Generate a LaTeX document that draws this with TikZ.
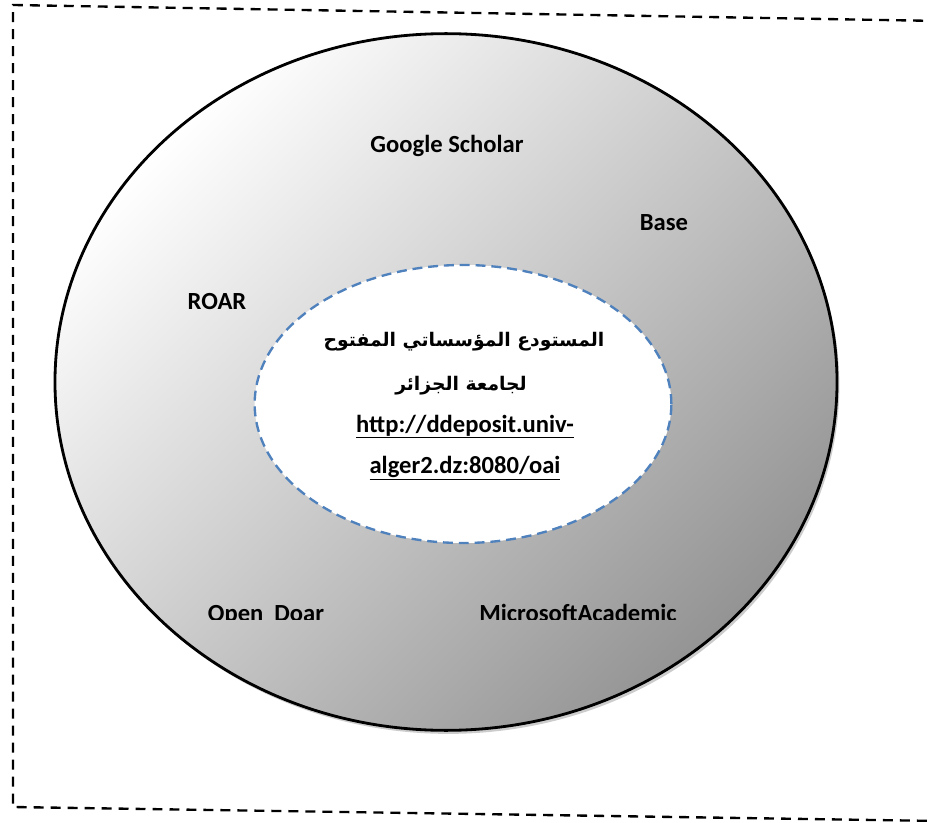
\documentclass[tikz,border=0pt]{standalone}
\usepackage{fontspec}
\setmainfont{Carlito}
\newfontfamily\arabicfont[Script=Arabic]{DejaVu Sans}
\TeXXeTstate=1
\usetikzlibrary{shapes.geometric,shadows}
\definecolor{repoblue}{HTML}{4F81BD}
\tikzset{
  dashframe/.style={line width=2pt, dash pattern=on 8.5pt off 6pt},
  ring/.style={ellipse, draw, line width=2.4pt, minimum width=23.46cm,
               minimum height=20.9cm, top color=white, bottom color=black!42,
               shading angle=45,
               drop shadow={shadow xshift=2pt, shadow yshift=-3pt, opacity=.4}},
  repo/.style={ellipse, draw=repoblue, line width=2pt,
               dash pattern=on 8.5pt off 5pt, fill=white,
               minimum width=12.5cm, minimum height=8.34cm},
  db/.style={font=\fontsize{21}{25}\selectfont\bfseries, anchor=base, inner sep=0pt},
  ar/.style={font=\arabicfont\fontsize{16}{22}\selectfont\bfseries, anchor=base, inner sep=0pt},
}

\begin{document}
\begin{tikzpicture}[x=0.03cm, y=-0.03cm]
  \useasboundingbox (0,0) rectangle (930,823);
  % outer dashed frame
  \coordinate (tl) at (13,5);
  \coordinate (tr) at (940,21);
  \coordinate (bl) at (13,807);
  \coordinate (br) at (940,821);
  \draw[dashframe] (tr) -- (tl) -- (bl) -- (br);

  \node[ring] (ring) at (446,382) {};
  \node[repo] (repo) at (463,404) {};

  \node[db] (gs) at (447,153) {Google Scholar};
  \node[db] (base) at (664,231) {Base};
  \node[db] (roar) at (217,309) {ROAR};
  \begin{scope}
    \clip (0,0) rectangle (930,619);
    \node[db] (doar) at (266,621) {Open\ \ Doar};
    \node[db] (msa) at (578,621) {MicrosoftAcademic};
  \end{scope}

  \node[ar] (ar1) at (464,346) {\beginR المستودع المؤسساتي المفتوح\endR};
  \node[ar] (ar2) at (461,390) {\beginR لجامعة الجزائر\endR};
  \node[db] (url1) at (465,432) {\underline{http://ddeposit.univ-}};
  \node[db] (url2) at (465,473) {\underline{alger2.dz:8080/oai}};
\end{tikzpicture}
\end{document}
